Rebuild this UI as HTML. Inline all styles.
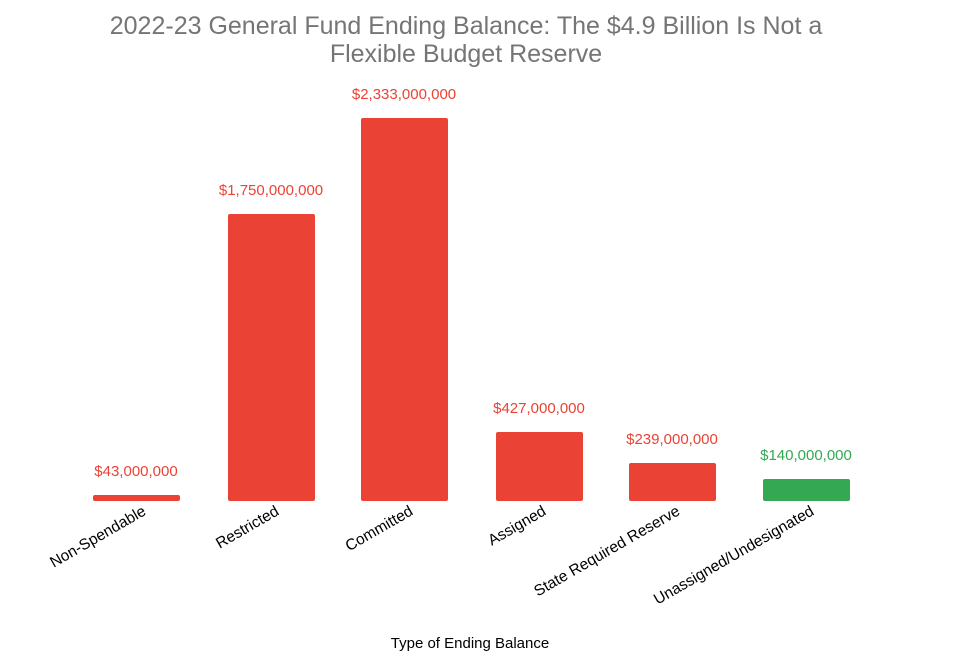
<!DOCTYPE html>
<html><head><meta charset="utf-8"><style>body{margin:0;background:#fff}svg{display:block}</style></head>
<body>
<svg width="960" height="660" xmlns="http://www.w3.org/2000/svg" font-family="Liberation Sans, Arial, sans-serif">
<rect width="960" height="660" fill="#fff"/>
<text x="466" y="34" font-size="25" fill="#757575" text-anchor="middle">2022-23 General Fund Ending Balance: The $4.9 Billion Is Not a</text>
<text x="466" y="62" font-size="25" fill="#757575" text-anchor="middle">Flexible Budget Reserve</text>
<g fill="#ea4335">
<rect x="93" y="495" width="87" height="6" rx="2"/>
<rect x="228" y="214" width="87" height="287" rx="2"/>
<rect x="361" y="118" width="87" height="383" rx="2"/>
<rect x="496" y="432" width="87" height="69" rx="2"/>
<rect x="629" y="463" width="87" height="38" rx="2"/>
</g>
<rect x="763" y="479" width="87" height="22" rx="2" fill="#34a853"/>
<g font-size="15" fill="#ea4335" text-anchor="middle">
<text x="136" y="476">$43,000,000</text>
<text x="271" y="195">$1,750,000,000</text>
<text x="404" y="99">$2,333,000,000</text>
<text x="539" y="413">$427,000,000</text>
<text x="672" y="444">$239,000,000</text>
<text x="806" y="460" fill="#34a853">$140,000,000</text>
</g>
<g font-size="15.5" fill="#000" text-anchor="end">
<text transform="translate(147,514) rotate(-30)">Non-Spendable</text>
<text transform="translate(280,514) rotate(-30)">Restricted</text>
<text transform="translate(414,514) rotate(-30)">Committed</text>
<text transform="translate(547,514) rotate(-30)">Assigned</text>
<text transform="translate(681,514) rotate(-30)">State Required Reserve</text>
<text transform="translate(815,514) rotate(-30)">Unassigned/Undesignated</text>
</g>
<text x="470" y="648" font-size="15" fill="#000" text-anchor="middle">Type of Ending Balance</text>
</svg>
</body></html>
